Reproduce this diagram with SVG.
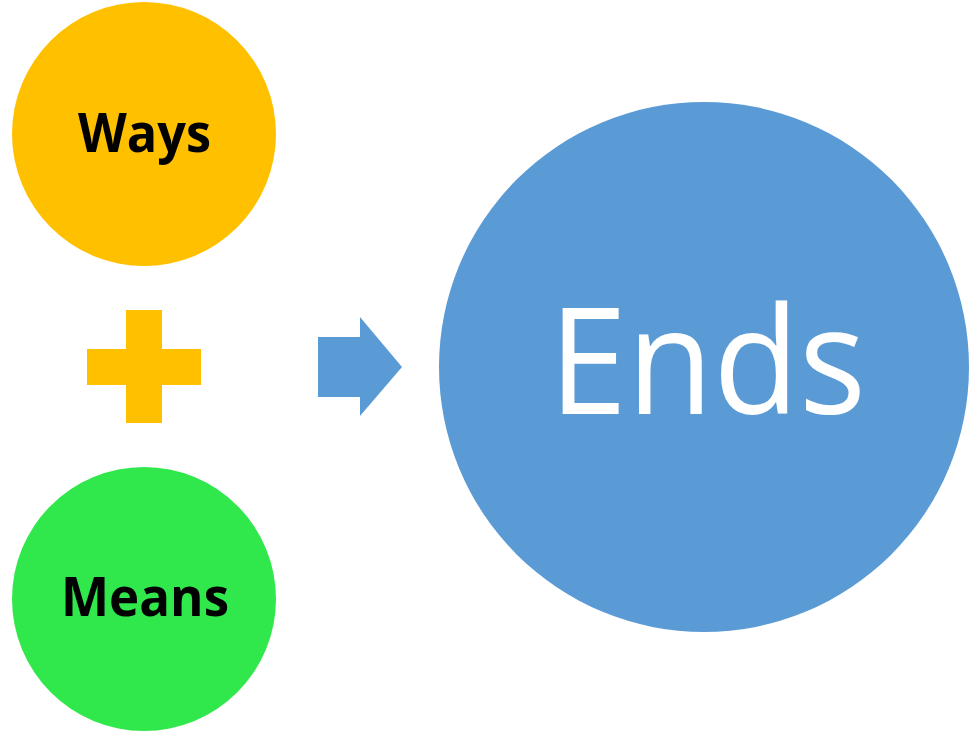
<svg xmlns="http://www.w3.org/2000/svg" width="974" height="735" viewBox="0 0 974 735">
  <style>
    .label { font-family: "Open Sans", "Liberation Sans", Arial, sans-serif; text-anchor: middle; }
    .small { font-size: 53px; font-weight: bold; fill: #000000; }
    .big { font-size: 148px; fill: #FFFFFF; }
  </style>
  <rect width="974" height="735" fill="#FFFFFF"/>

  <g id="ways">
    <circle cx="144" cy="134" r="132" fill="#FFC000"/>
    <text class="label small" x="144.5" y="152" textLength="133" lengthAdjust="spacingAndGlyphs">Ways</text>
  </g>

  <g id="plus">
    <path d="M126,310 H162 V349 H201 V385 H162 V423 H126 V385 H87 V349 H126 Z" fill="#FFC000"/>
  </g>

  <g id="means">
    <circle cx="144" cy="599" r="132" fill="#30E84B"/>
    <text class="label small" x="145" y="616" textLength="168" lengthAdjust="spacingAndGlyphs">Means</text>
  </g>

  <g id="connectors">
    <path d="M318,337 H360 V317 L402,367 L360,416 V397 H318 Z" fill="#5B9BD5"/>
  </g>

  <g id="ends">
    <circle cx="704" cy="367" r="265" fill="#5B9BD5"/>
    <text class="label big" x="707.5" y="414" textLength="317" lengthAdjust="spacingAndGlyphs">Ends</text>
  </g>
</svg>
